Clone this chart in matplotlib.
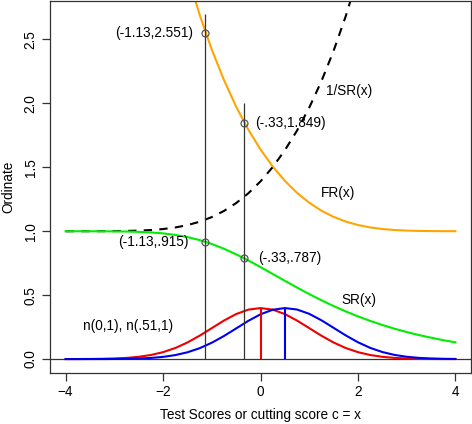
import numpy as np
import matplotlib
matplotlib.use("Agg")
import matplotlib.pyplot as plt

plt.rcParams['font.family'] = ['Liberation Sans', 'DejaVu Sans']
plt.rcParams['font.size'] = 9.8

# grid of test scores
x = np.arange(-4, 4.001, 0.25)

# curves (values at x = -4, -3.75, ..., 4)
sr = [1.0000, 0.9999, 0.9998, 0.9995, 0.9989, 0.9976, 0.9951, 0.9906, 0.9832,
      0.9715, 0.9544, 0.9308, 0.9003, 0.8630, 0.8195, 0.7712, 0.7195, 0.6660,
      0.6122, 0.5594, 0.5084, 0.4601, 0.4148, 0.3727, 0.3340, 0.2986, 0.2666,
      0.2376, 0.2113, 0.1879, 0.1673, 0.1478, 0.1309]
inv_sr = [1.0000, 1.0001, 1.0002, 1.0005, 1.0011, 1.0024, 1.0049, 1.0094, 1.0171,
          1.0293, 1.0478, 1.0743, 1.1107, 1.1588, 1.2203, 1.2967, 1.3899, 1.5016,
          1.6335, 1.7877, 1.9669, 2.1735, 2.4110, 2.6831, 2.994, 3.349, 3.751,
          4.209, 4.733, 5.32, 5.98, 6.77, 7.64]
fr = [9.77, 8.67, 7.65, 6.79, 6.03, 5.35, 4.755, 4.228, 3.770, 3.366, 3.008,
      2.695, 2.4215, 2.1827, 1.9748, 1.7945, 1.6392, 1.5065, 1.3941, 1.3001,
      1.2230, 1.1610, 1.1124, 1.0755, 1.0487, 1.0299, 1.0175, 1.0097, 1.0051,
      1.0025, 1.0012, 1.0005, 1.0002]
n0 = [0.00013, 0.00035, 0.00087, 0.00203, 0.00443, 0.00909, 0.01753, 0.03174,
      0.05399, 0.08628, 0.12952, 0.18265, 0.24197, 0.30114, 0.35207, 0.38667,
      0.39894, 0.38667, 0.35207, 0.30114, 0.24197, 0.18265, 0.12952, 0.08628,
      0.05399, 0.03174, 0.01753, 0.00909, 0.00443, 0.00203, 0.00087, 0.00035,
      0.00013]
n51 = [0.00002, 0.00005, 0.00013, 0.00034, 0.00084, 0.00196, 0.00430, 0.00885,
       0.01709, 0.03103, 0.05292, 0.08478, 0.12759, 0.18037, 0.23955, 0.29888,
       0.35029, 0.38568, 0.39892, 0.38761, 0.35381, 0.30340, 0.24440, 0.18494,
       0.13147, 0.08779, 0.05507, 0.03246, 0.01797, 0.00935, 0.00457, 0.00210,
       0.00090]

# cutting scores and marked values
cut_x = [-1.13, -0.33]
cut_fr = [2.551, 1.849]
cut_sr = [0.915, 0.787]
seg_top = [2.70, 2.00]
fr_labels = ["(-1.13,2.551)", "(-.33,1.849)"]
sr_labels = ["(-1.13,.915)", "(-.33,.787)"]
means = [0, 0.51]
peak = 0.3989

fig = plt.figure(figsize=(4.72, 4.24), dpi=100)
ax = fig.add_axes([50/472, 51/424, 421/472, 372.5/424])

ax.axhline(0, color='#333333', lw=0.9)
ax.plot(x, fr, color='orange', lw=1.5)
ax.plot(x, inv_sr, color='black', lw=1.5, dashes=(4, 3.5))
ax.plot(x, sr, color='#00ee00', lw=1.5)
ax.plot(x, n0, color='#ee0000', lw=1.5)
ax.plot(x, n51, color='#0000ee', lw=1.5)
ax.vlines(means[0], 0, peak, color='#ee0000', lw=1.5)
ax.vlines(means[1], 0, peak, color='#0000ee', lw=1.5)
ax.vlines(cut_x, 0, seg_top, color='#333333', lw=0.9)

ax.plot(cut_x, cut_fr, 'o', mfc='none', mec='#555555', ms=5, mew=0.9)
ax.plot(cut_x, cut_sr, 'o', mfc='none', mec='#555555', ms=5, mew=0.9)

ax.annotate(fr_labels[0], (cut_x[0], cut_fr[0]), xytext=(-9, 0),
            textcoords='offset points', ha='right', va='center')
ax.annotate(fr_labels[1], (cut_x[1], cut_fr[1]), xytext=(8, 0),
            textcoords='offset points', ha='left', va='center')
ax.annotate(sr_labels[0], (cut_x[0], cut_sr[0]), xytext=(-12, 0),
            textcoords='offset points', ha='right', va='center')
ax.annotate(sr_labels[1], (cut_x[1], cut_sr[1]), xytext=(10, 0),
            textcoords='offset points', ha='left', va='center')

ax.text(1.81, 2.094, "1/SR(x)", ha='center', va='center')
ax.text(1.60, 1.30, "FR(x)", ha='center', va='center')
ax.text(2.02, 0.46, "SR(x)", ha='center', va='center')
ax.text(-2.71, 0.26, "n(0,1), n(.51,1)", ha='center', va='center')

ax.set_xlim(-4.32, 4.32)
ax.set_ylim(-0.109, 2.805)
ax.set_xticks([-4, -2, 0, 2, 4])
ax.set_yticks([0, 0.5, 1.0, 1.5, 2.0, 2.5])
ax.set_yticklabels(["0.0", "0.5", "1.0", "1.5", "2.0", "2.5"], rotation=90, va='center')
ax.tick_params(direction='out', length=6, width=0.9, color='#333333', pad=3)
for s in ax.spines.values():
    s.set_color('#333333')
    s.set_linewidth(0.9)

ax.set_xlabel("Test Scores or cutting score c = x", labelpad=6)
ax.set_ylabel("Ordinate", labelpad=6)

fig.savefig("out.png", dpi=100)
